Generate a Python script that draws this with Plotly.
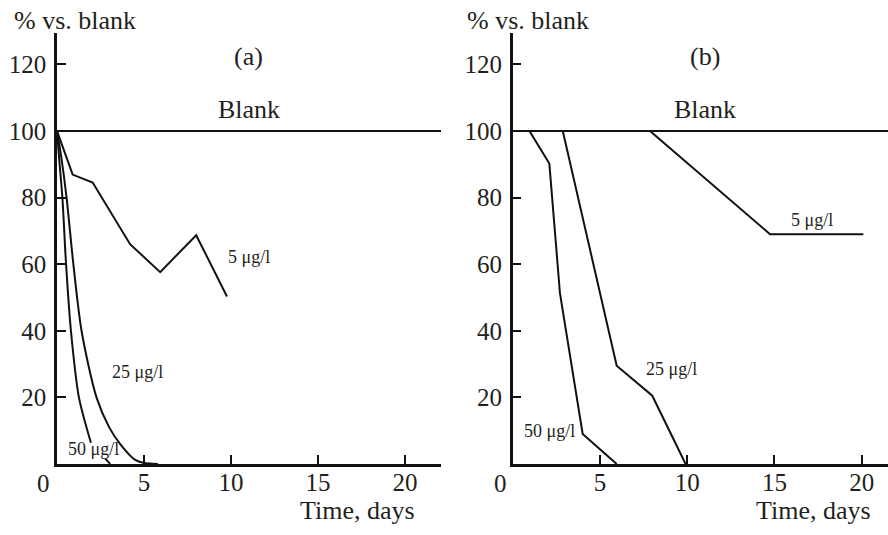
import plotly.graph_objects as go
from plotly.subplots import make_subplots

# ---------------- data ----------------
# Panel (a)
blank_x = [0, 22.1]
blank_y = [100, 100]

a5_x = [0, 0.9, 2.05, 4.2, 5.93, 8.0, 9.77]
a5_y = [100, 86.9, 84.5, 66.0, 57.6, 68.7, 50.3]

a25_x = [0, 0.25, 0.55, 0.94, 1.41, 2.27, 3.0, 3.7, 4.47, 5.0, 5.8]
a25_y = [100, 92, 80, 60, 40, 20, 11, 5.5, 1.3, 0.3, 0]

# the 50 ug/l curve is interrupted by its label
a50_x = [0, 0.15, 0.31, 0.52, 0.8, 1.26, 1.95, None, 2.77, 3.06]
a50_y = [100, 90, 80, 60, 40, 20, 6.4, None, 1.6, 0]

# Panel (b)
blank_bx = [0, 21.6]
blank_by = [100, 100]

b5_x = [0, 7.87, 14.75, 20.1]
b5_y = [100, 100, 69.0, 69.0]

b25_x = [0, 2.87, 5.96, 8.0, 9.91]
b25_y = [100, 100, 29.5, 20.5, 0]

b50_x = [0, 0.96, 2.1, 2.71, 4.01, 5.96]
b50_y = [100, 100, 90.2, 51.2, 9.0, 0]

x_ticks = [5, 10, 15, 20]
x_ticklabels = ["5", "10", "15", "20"]
y_ticks = [20, 40, 60, 80, 100, 120]
y_ticklabels = ["20", "40", "60", "80", "100", "120"]

# ---------------- figure ----------------
W, H = 888, 535
FONT = "Liberation Serif, Times New Roman, serif"
TXT = "#231f20"
LINE = "#111111"

fig = make_subplots(rows=1, cols=2)

def line(x, y, col):
    fig.add_trace(go.Scatter(x=x, y=y, mode="lines",
                             line=dict(color=LINE, width=2),
                             connectgaps=False, showlegend=False,
                             hoverinfo="skip"), row=1, col=col)

line(blank_x, blank_y, 1)
line(a5_x, a5_y, 1)
fig.add_trace(go.Scatter(x=a25_x, y=a25_y, mode="lines",
                         line=dict(color=LINE, width=2, shape="spline", smoothing=0.8),
                         showlegend=False, hoverinfo="skip"), row=1, col=1)
fig.add_trace(go.Scatter(x=a50_x, y=a50_y, mode="lines",
                         line=dict(color=LINE, width=2, shape="spline", smoothing=0.8),
                         connectgaps=False, showlegend=False, hoverinfo="skip"), row=1, col=1)

line(blank_bx, blank_by, 2)
line(b5_x, b5_y, 2)
line(b25_x, b25_y, 2)
line(b50_x, b50_y, 2)

axis_common = dict(showline=True, linecolor=LINE, linewidth=2.5, mirror=False,
                   showgrid=False, zeroline=False, ticks="inside", ticklen=9,
                   tickwidth=2, tickcolor=LINE,
                   tickfont=dict(family=FONT, size=25, color=TXT))

fig.update_layout(
    width=W, height=H,
    paper_bgcolor="white", plot_bgcolor="white",
    margin=dict(l=0, r=0, t=33, b=71),
    showlegend=False,
    xaxis=dict(domain=[57 / W, 441 / W], range=[0, 22.07],
               tickvals=x_ticks, ticktext=x_ticklabels, ticklabelstandoff=-6, **axis_common),
    xaxis2=dict(domain=[512.7 / W, 1.0], range=[0, 21.51],
                tickvals=x_ticks, ticktext=x_ticklabels, ticklabelstandoff=-6, **axis_common),
    yaxis=dict(domain=[0, 1], range=[0, 129.4],
               tickvals=y_ticks, ticktext=y_ticklabels, ticklabelstandoff=3, **axis_common),
    yaxis2=dict(domain=[0, 1], range=[0, 129.4],
                tickvals=y_ticks, ticktext=y_ticklabels, ticklabelstandoff=3, **axis_common),
)

ann = []
def t(text, x, y, xref, yref, size, xanchor="center", yanchor="middle"):
    ann.append(dict(text=text, x=x, y=y, xref=xref, yref=yref, showarrow=False,
                    xanchor=xanchor, yanchor=yanchor,
                    font=dict(family=FONT, size=size, color=TXT)))

# panel (a) text
t("Blank", 11.03, 106.3, "x", "y", 26)
t("(a)", 10.98, 122.2, "x", "y", 26)
t("5 μg/l", 11.03, 62.2, "x", "y", 18)
t("25 μg/l", 4.6, 27.6, "x", "y", 18)
t("50 μg/l", 2.07, 4.5, "x", "y", 18)
# panel (b) text
t("Blank", 11.02, 106.3, "x2", "y2", 26)
t("(b)", 11.02, 122.2, "x2", "y2", 26)
t("5 μg/l", 17.13, 73.3, "x2", "y2", 18)
t("25 μg/l", 9.11, 28.5, "x2", "y2", 18)
t("50 μg/l", 2.1, 10.0, "x2", "y2", 18)

# axis titles and zero labels
t("% vs. blank", 12 / W, (464 - 20) / 431, "paper", "paper", 26, xanchor="left")
t("% vs. blank", 465 / W, (464 - 20) / 431, "paper", "paper", 26, xanchor="left")
t("Time, days", 417 / W, (464 - 510) / 431, "paper", "paper", 26, xanchor="right")
t("Time, days", 873 / W, (464 - 510) / 431, "paper", "paper", 26, xanchor="right")
t("0", 43 / W, (464 - 483) / 431, "paper", "paper", 25)
t("0", 500 / W, (464 - 483) / 431, "paper", "paper", 25)

fig.update_layout(annotations=ann)

fig.write_html("out.html",
               config={"displayModeBar": False},
               post_script="document.body.style.margin='0';document.body.style.overflow='hidden';")
